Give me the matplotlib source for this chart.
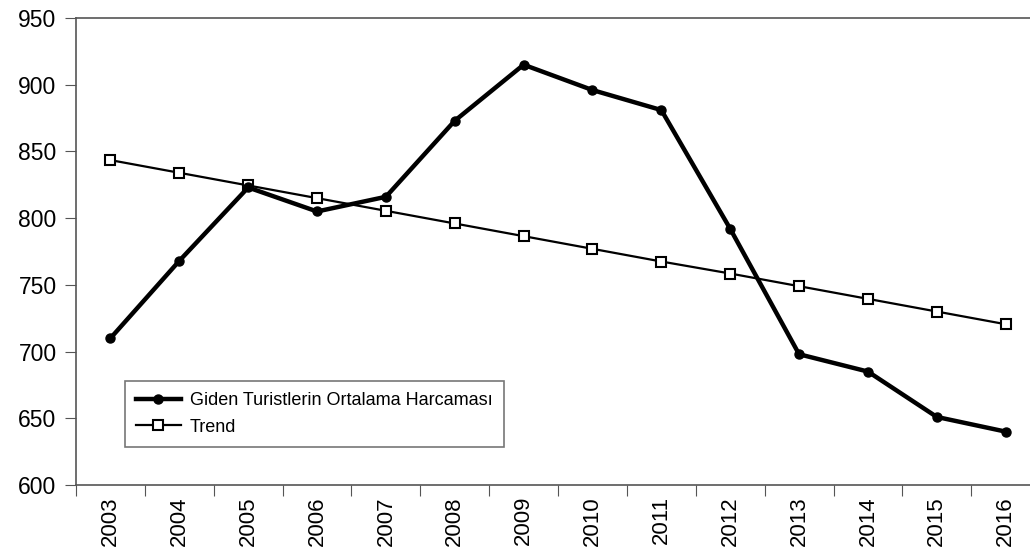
import matplotlib
matplotlib.use("Agg")
import matplotlib.pyplot as plt
import numpy as np

plt.rcParams['font.family'] = ['Liberation Sans', 'DejaVu Sans']

years = ['2003', '2004', '2005', '2006', '2007', '2008', '2009',
         '2010', '2011', '2012', '2013', '2014', '2015', '2016']
harcama = [710, 768, 823, 805, 816, 873, 915, 896, 881, 792, 698, 685, 651, 640]
trend = [843.5, 834, 824.5, 815, 805.5, 796, 786.5, 777, 767.5, 758.5,
         749, 739.5, 730, 720.5]

fig = plt.figure(figsize=(10.3, 5.51), dpi=100)
ax = fig.add_axes([0.0738, 0.1198, 0.936, 0.8475])

x = np.arange(len(years))
ax.plot(x, harcama, color='black', lw=3.2, marker='o', ms=6.5,
        label='Giden Turistlerin Ortalama Harcaması', zorder=3)
ax.plot(x, trend, color='black', lw=1.6, marker='s', ms=7.5,
        mfc='white', mec='black', mew=1.5, label='Trend', zorder=2)

ax.set_xlim(-0.5, len(years) - 0.5)
ax.set_ylim(600, 950)
ax.set_yticks(np.arange(600, 951, 50))

# ticks sit between the years, labels in the middle
ax.set_xticks(np.arange(-0.5, len(years) - 0.4, 1))
ax.set_xticklabels([])
ax.set_xticks(x, minor=True)
ax.set_xticklabels(years, minor=True, rotation=90, fontsize=16)
ax.tick_params(axis='x', which='minor', length=0, pad=8)
ax.tick_params(axis='x', which='major', length=8, direction='out', color='#555555')
ax.tick_params(axis='y', length=8, direction='out', color='#555555', labelsize=16.5, pad=6)

for side in ['top', 'bottom', 'left', 'right']:
    ax.spines[side].set_color('#555555')
    ax.spines[side].set_linewidth(1.2)

leg = ax.legend(loc='upper left', bbox_to_anchor=(0.0508, 0.2227),
                borderaxespad=0, fontsize=13, fancybox=False,
                edgecolor='#555555', handlelength=2.5, handletextpad=0.5,
                labelspacing=0.55, borderpad=0.6)
leg.get_frame().set_linewidth(1.2)

fig.savefig('out.png', dpi=100)
